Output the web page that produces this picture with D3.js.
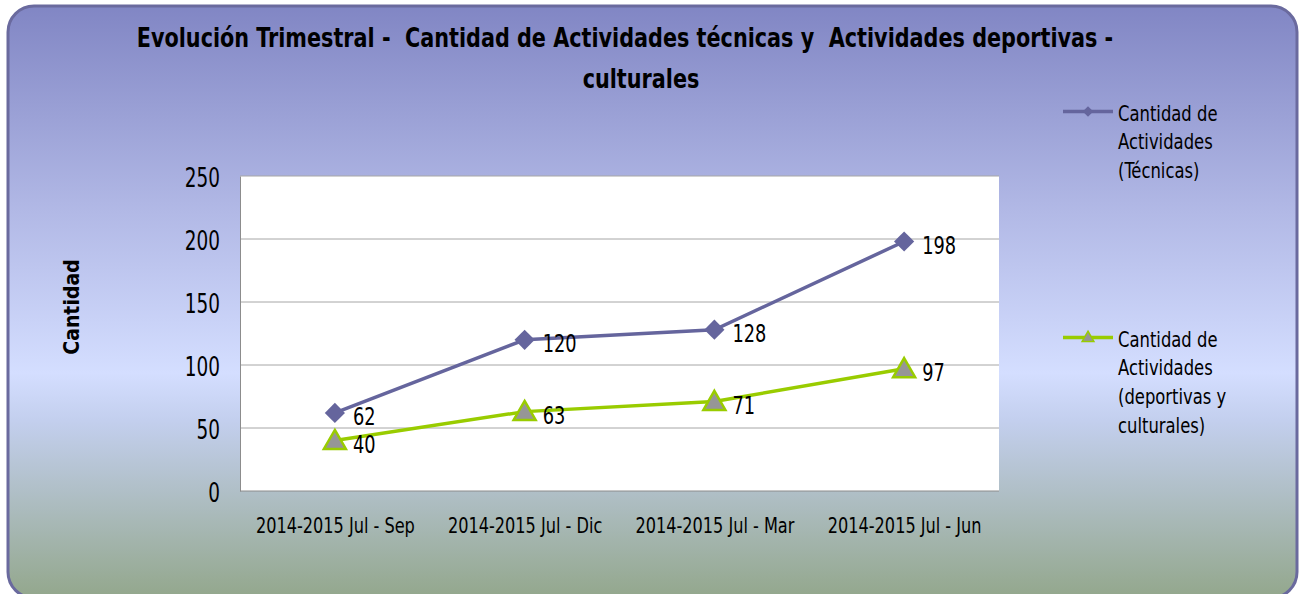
<!doctype html>
<html>
<head>
<meta charset="utf-8">
<style>
    body { margin: 0; background: #ffffff; }
    svg text { font-family: "Liberation Sans Narrow", "DejaVu Sans Condensed", "Arial Narrow", sans-serif; fill: #000; white-space: pre; }
    .grid line { stroke: #a6a6a6; stroke-width: 1px; }
</style>
<script src="https://d3js.org/d3.v7.min.js"></script>
</head>
<body>
<svg id="chart" width="1299" height="594"></svg>
<script>
// data
var categories = ["2014-2015 Jul - Sep", "2014-2015 Jul - Dic", "2014-2015 Jul - Mar", "2014-2015 Jul - Jun"];
var tecnicas = [62, 120, 128, 198];
var deportivas = [40, 63, 71, 97];
var yTicks = [0, 50, 100, 150, 200, 250];
var seriesNames = [
    ["Cantidad de", "Actividades", "(Técnicas)"],
    ["Cantidad de", "Actividades", "(deportivas y", "culturales)"]
];

var svg = d3.select("#chart");

// narrow text: place at (x,y) and squeeze horizontally
function squeeze(sel, x, y, s) {
    sel.attr("transform", "translate(" + x + "," + y + ") scale(" + s + ",1)");
    return sel;
}

// background
var defs = svg.append("defs");
var grad = defs.append("linearGradient")
    .attr("id", "bg").attr("x1", 0).attr("y1", 0).attr("x2", 0).attr("y2", 1);
grad.append("stop").attr("offset", "0%").attr("stop-color", "#8186c4");
grad.append("stop").attr("offset", "35%").attr("stop-color", "#b2b9e6");
grad.append("stop").attr("offset", "62%").attr("stop-color", "#d4deff");
grad.append("stop").attr("offset", "70%").attr("stop-color", "#c3cfee");
grad.append("stop").attr("offset", "100%").attr("stop-color", "#93a78c");

svg.append("rect")
    .attr("x", 8).attr("y", 6)
    .attr("width", 1289).attr("height", 592)
    .attr("rx", 26).attr("ry", 26)
    .attr("fill", "url(#bg)")
    .attr("stroke", "#6a6a9e")
    .attr("stroke-width", 3);

// title
squeeze(svg.append("text"), 625, 47, 0.855)
    .attr("text-anchor", "middle")
    .attr("font-weight", "bold")
    .attr("font-size", "27px")
    .text("Evolución Trimestral -  Cantidad de Actividades técnicas y  Actividades deportivas -");
squeeze(svg.append("text"), 641, 88, 0.855)
    .attr("text-anchor", "middle")
    .attr("font-weight", "bold")
    .attr("font-size", "27px")
    .text("culturales");

// plot area
var pLeft = 240, pTop = 176, pRight = 999, pBottom = 491;

var x = d3.scalePoint().domain(categories).range([pLeft, pRight]).padding(0.5);
var y = d3.scaleLinear().domain([0, 250]).range([pBottom, pTop]);

svg.append("rect")
    .attr("x", pLeft).attr("y", pTop)
    .attr("width", pRight - pLeft).attr("height", pBottom - pTop)
    .attr("fill", "#ffffff");

svg.append("g").attr("class", "grid")
    .selectAll("line")
    .data(yTicks.filter(function(d) { return d > 0; }))
    .enter().append("line")
    .attr("x1", pLeft).attr("x2", pRight)
    .attr("y1", function(d) { return y(d); })
    .attr("y2", function(d) { return y(d); });

// axes
var yAxis = svg.append("g")
    .attr("transform", "translate(" + pLeft + ",0)")
    .call(d3.axisLeft(y).tickValues(yTicks).tickSize(0).tickPadding(20));
yAxis.select(".domain").attr("stroke", "#8c8c8c");
yAxis.selectAll(".tick text")
    .attr("font-size", "27px")
    .attr("x", 0).attr("dy", "0.36em")
    .attr("transform", "translate(-20,1) scale(0.76,1)");

var xAxis = svg.append("g")
    .attr("transform", "translate(0," + pBottom + ")")
    .call(d3.axisBottom(x).tickSize(0).tickPadding(27));
xAxis.select(".domain").attr("stroke", "#8c8c8c")
    .attr("d", "M" + pLeft + ",0H" + pRight);
xAxis.selectAll(".tick text")
    .attr("font-size", "20.5px")
    .attr("transform", "scale(0.875,1)");

svg.append("text")
    .attr("transform", "translate(79,307) rotate(-90)")
    .attr("text-anchor", "middle")
    .attr("font-weight", "bold")
    .attr("font-size", "21px")
    .text("Cantidad");

// lines
var line = d3.line()
    .x(function(d, i) { return x(categories[i]); })
    .y(function(d) { return y(d); });

svg.append("path").datum(tecnicas)
    .attr("d", line)
    .attr("fill", "none")
    .attr("stroke", "#65659d")
    .attr("stroke-width", 3.5);

svg.append("path").datum(deportivas)
    .attr("d", line)
    .attr("fill", "none")
    .attr("stroke", "#99cc00")
    .attr("stroke-width", 3.5);

var diamond = d3.symbol().type(d3.symbolDiamond2).size(260);
var triangle = d3.symbol().type(d3.symbolTriangle).size(210);

svg.selectAll(".m1").data(tecnicas).enter().append("path")
    .attr("class", "m1")
    .attr("transform", function(d, i) { return "translate(" + x(categories[i]) + "," + y(d) + ")"; })
    .attr("d", diamond)
    .attr("fill", "#65659d");

svg.selectAll(".m2").data(deportivas).enter().append("path")
    .attr("class", "m2")
    .attr("transform", function(d, i) { return "translate(" + x(categories[i]) + "," + (y(d) + 2) + ")"; })
    .attr("d", triangle)
    .attr("fill", "#969696")
    .attr("stroke", "#99cc00")
    .attr("stroke-width", 2.5);

// data labels
[tecnicas, deportivas].forEach(function(series, k) {
    svg.selectAll(".l" + k).data(series).enter().append("text")
        .attr("class", "l" + k)
        .attr("transform", function(d, i) {
            return "translate(" + (x(categories[i]) + 18) + "," + (y(d) + 3.5) + ") scale(0.79,1)";
        })
        .attr("dy", "0.36em")
        .attr("font-size", "25px")
        .text(function(d) { return d; });
});

// legend
var legendY = [111.5, 337.5];
var legendColor = ["#65659d", "#99cc00"];
legendY.forEach(function(ly, k) {
    svg.append("line")
        .attr("x1", 1063).attr("x2", 1113)
        .attr("y1", ly).attr("y2", ly)
        .attr("stroke", legendColor[k])
        .attr("stroke-width", 3.5);
    if (k === 0) {
        svg.append("path")
            .attr("transform", "translate(1088," + ly + ")")
            .attr("d", d3.symbol().type(d3.symbolDiamond2).size(70))
            .attr("fill", legendColor[0]);
    } else {
        svg.append("path")
            .attr("transform", "translate(1088," + (ly + 0.5) + ")")
            .attr("d", d3.symbol().type(d3.symbolTriangle).size(60))
            .attr("fill", "#969696")
            .attr("stroke", "#99cc00")
            .attr("stroke-width", 1.5);
    }
    var t = squeeze(svg.append("text"), 1118, ly + 9, 0.89).attr("font-size", "20.5px");
    seriesNames[k].forEach(function(s, j) {
        t.append("tspan").attr("x", 0).attr("y", j * 29).text(s);
    });
});
</script>
</body>
</html>
